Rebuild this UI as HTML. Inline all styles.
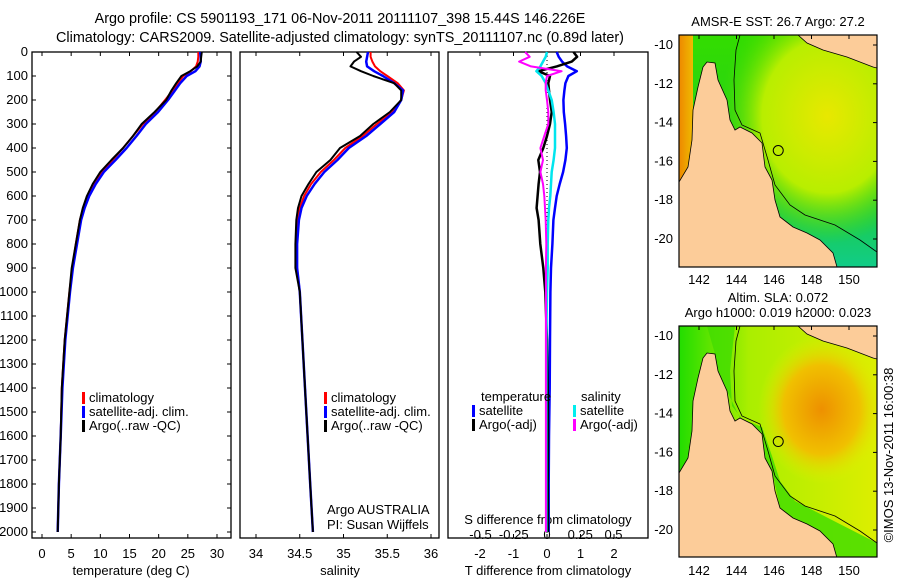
<!DOCTYPE html>
<html><head><meta charset="utf-8"><style>
body{margin:0;background:#fff;}
svg{display:block;font-family:"Liberation Sans",sans-serif;font-size:13px;}
</style></head><body>
<svg id="c" width="900" height="580" viewBox="0 0 900 580">
<defs>
<radialGradient id="sstY" cx="0.75" cy="0.35" r="0.55"><stop offset="0" stop-color="#e8e800"/><stop offset="0.6" stop-color="#b8ee00"/><stop offset="1" stop-color="#44dd00" stop-opacity="0"/></radialGradient>
<linearGradient id="sstB" x1="0" y1="0" x2="0" y2="1"><stop offset="0" stop-color="#33dd00"/><stop offset="0.6" stop-color="#22cc22"/><stop offset="1" stop-color="#11cc88"/></linearGradient>
<linearGradient id="sstL" x1="0" y1="0" x2="1" y2="0"><stop offset="0" stop-color="#ee8800"/><stop offset="1" stop-color="#eebb00"/></linearGradient>
<radialGradient id="slaO" cx="0.72" cy="0.36" r="0.32" gradientTransform="rotate(35 0.72 0.36) scale(1 1)"><stop offset="0" stop-color="#ee9000"/><stop offset="0.6" stop-color="#f0c000"/><stop offset="1" stop-color="#e0ee00" stop-opacity="0"/></radialGradient>
<linearGradient id="slaB" x1="0" y1="0" x2="1" y2="0"><stop offset="0" stop-color="#22dd00"/><stop offset="0.35" stop-color="#aaee00"/><stop offset="1" stop-color="#ddee00"/></linearGradient>
<clipPath id="m1c"><rect x="679" y="35" width="198" height="232"/></clipPath>
<clipPath id="m2c"><rect x="679" y="326" width="198" height="231"/></clipPath>
</defs>
<text x="340" y="23" text-anchor="middle" font-size="14.4">Argo profile: CS 5901193_171 06-Nov-2011 20111107_398 15.44S 146.226E</text>
<text x="340" y="42" text-anchor="middle" font-size="14.4">Climatology: CARS2009. Satellite-adjusted climatology: synTS_20111107.nc (0.89d later)</text>
<g id="plots"></g>
<g id="maps"></g>
<text transform="translate(893,455) rotate(-90)" text-anchor="middle">©IMOS 13-Nov-2011 16:00:38</text>
</svg>
<script>
const NS="http://www.w3.org/2000/svg";
const depths=[0,20,40,60,80,100,130,160,200,250,300,350,400,450,500,550,600,650,700,800,900,1000,1200,1400,1600,1800,2000];
const tempArgo=[27.4,27.3,27.2,26.6,25.4,23.9,23.0,22.2,21.3,19.3,17.1,15.6,13.9,11.9,10.0,8.7,7.7,7.0,6.5,5.8,5.1,4.7,3.9,3.4,3.2,2.9,2.7];
const tempClim=[26.8,26.8,26.7,26.4,25.5,24.2,23.3,22.4,21.1,19.4,17.3,15.6,13.9,12.1,10.3,8.9,7.9,7.1,6.5,5.8,5.2,4.7,3.9,3.4,3.2,2.9,2.7];
const tempSat=[27.1,27.2,27.2,27.0,26.3,24.8,23.7,22.8,21.6,19.9,17.8,16.2,14.5,12.6,10.6,9.2,8.1,7.3,6.7,6.0,5.3,4.8,4.0,3.5,3.2,2.9,2.7];
const salArgo=[35.15,35.2,35.12,35.08,35.2,35.34,35.58,35.66,35.66,35.53,35.34,35.19,34.96,34.85,34.69,34.6,34.52,34.48,34.46,34.45,34.45,34.5,34.53,34.56,34.59,34.62,34.65];
const salClim=[35.31,35.31,35.33,35.36,35.42,35.5,35.62,35.69,35.66,35.56,35.38,35.22,35.02,34.89,34.74,34.63,34.55,34.5,34.47,34.46,34.47,34.5,34.53,34.56,34.59,34.62,34.65];
const salSat=[35.28,35.27,35.26,35.27,35.35,35.45,35.58,35.68,35.66,35.58,35.42,35.26,35.06,34.93,34.78,34.67,34.58,34.52,34.49,34.47,34.47,34.5,34.53,34.56,34.59,34.62,34.65];
const dTsat=[0.29,0.35,0.45,0.6,0.89,0.64,0.55,0.52,0.49,0.5,0.54,0.57,0.59,0.55,0.48,0.38,0.29,0.24,0.19,0.16,0.12,0.1,0.09,0.08,0.06,0.05,0.05];
const dTargo=[0.79,0.9,0.74,0.29,-0.26,0.09,0.04,0.06,0.09,0.14,0.09,0.0,-0.11,-0.26,-0.21,-0.25,-0.28,-0.31,-0.25,-0.2,-0.11,-0.05,0.0,0.02,0.03,0.02,0.03];
const dSsat=[0.0,-0.01,-0.03,-0.05,-0.08,-0.04,-0.01,0.01,0.035,0.05,0.06,0.06,0.06,0.05,0.035,0.03,0.025,0.015,0.01,0.005,0.005,0.0,-0.005,-0.005,-0.005,-0.005,-0.005];
const dSargo=[-0.165,-0.13,-0.21,-0.12,0.11,0.0,-0.01,-0.01,0.0,0.01,0.01,-0.02,-0.05,-0.03,-0.05,-0.03,-0.02,-0.015,-0.01,-0.005,-0.008,-0.008,-0.008,-0.008,-0.008,-0.008,-0.008];
const depthTicks=[0,100,200,300,400,500,600,700,800,900,1000,1100,1200,1300,1400,1500,1600,1700,1800,1900,2000];
const tempTicks=[0,5,10,15,20,25,30];
const salTicks=[34,34.5,35,35.5,36];
const dTTicks=[-2,-1,0,1,2];
const dSTicks=[-0.5,-0.25,0,0.25,0.5];
const lonTicks=[142,144,146,148,150];
const latTicks=[-10,-12,-14,-16,-18,-20];

const yD=d=>52+d*0.24;
const xT=t=>42+t*5.833;
const xS=s=>256+(s-34)*87.5;
const xdT=v=>547+v*33.5;
const xdS=v=>547+v*133;
const xLon=l=>699+(l-142)*18.75;
const yLat1=l=>45+(-10-l)*19.4;
const yLat2=l=>336+(-10-l)*19.4;

function el(tag,attrs,parent,text){const e=document.createElementNS(NS,tag);for(const k in attrs)e.setAttribute(k,attrs[k]);if(text!==undefined)e.textContent=text;parent.appendChild(e);return e;}
const P=document.getElementById('plots');
const panels=[[32,231],[240,439],[448,648]];
panels.forEach((p,i)=>{
  const r=el('rect',{x:p[0],y:52,width:p[1]-p[0],height:486,fill:'none',stroke:'#000','stroke-width':1.3},P);
  
  
});
depthTicks.forEach(d=>{
  const t=el('text',{x:28,y:yD(d)+4,'text-anchor':'end'},P,String(d));
  
  
  el('line',{x1:32,x2:36,y1:yD(d),y2:yD(d),stroke:'#000'},P);
  el('line',{x1:227,x2:231,y1:yD(d),y2:yD(d),stroke:'#000'},P);
});
function xticks(ticks,fx,y){ticks.forEach(v=>{const x=fx(v);
  const t=el('text',{x:x,y:y,'text-anchor':'middle'},P,String(v));
  
  
  el('line',{x1:x,x2:x,y1:534,y2:538,stroke:'#000'},P);el('line',{x1:x,x2:x,y1:52,y2:56,stroke:'#000'},P);});}
xticks(tempTicks,xT,558);
xticks(salTicks,xS,558);
xticks(dTTicks,xdT,558);
dSTicks.forEach(v=>{const t=el('text',{x:xdS(v),y:539,'text-anchor':'middle'},P,String(v));
  
  });
[['temperature (deg C)',131,'temp-axis-title'],['salinity',340,'salinity-axis-title'],['T difference from climatology',548,'t-diff-axis-title']].forEach(a=>{
  const t=el('text',{x:a[1],y:575,'text-anchor':'middle'},P,a[0]);
  
  });
let st=el('text',{x:548,y:524,'text-anchor':'middle'},P,'S difference from climatology');


el('line',{x1:547,x2:547,y1:52,y2:538,stroke:'#000','stroke-dasharray':'1,3'},P);
function series(vals,fx,color,w,name){
  const pts=vals.map((v,i)=>fx(v).toFixed(1)+','+yD(depths[i]).toFixed(1)).join(' ');
  const pl=el('polyline',{points:pts,fill:'none',stroke:color,'stroke-width':w,'stroke-linejoin':'round'},P);
  
  
}
series(tempClim,xT,'#ff0000',2,'temp-climatology-line');
series(tempSat,xT,'#0000ff',2.5,'temp-satellite-line');
series(tempArgo,xT,'#000',2,'temp-argo-line');
series(salClim,xS,'#ff0000',2,'salinity-climatology-line');
series(salSat,xS,'#0000ff',2.5,'salinity-satellite-line');
series(salArgo,xS,'#000',2,'salinity-argo-line');
series(dTsat,xdT,'#0000ff',2.5,'t-diff-satellite-line');
series(dTargo,xdT,'#000',2.5,'t-diff-argo-line');
series(dSsat,xdS,'#00e5ee',2.5,'s-diff-satellite-line');
series(dSargo,xdS,'#ff00ff',2,'s-diff-argo-line');
function legend(x,y,items,name){items.forEach((it,i)=>{
  el('rect',{x:x,y:y+i*14-10,width:3,height:12,fill:it[1]},P);
  const t=el('text',{x:x+7,y:y+i*14},P,it[0]);
  
  });}
[[82,402],[324,402]].forEach((p,k)=>legend(p[0],p[1],[['climatology','#f00'],['satellite-adj. clim.','#00f'],['Argo(..raw -QC)','#000']],'legend-entry-'+(k+1)));
legend(472,415,[['satellite','#00f'],['Argo(-adj)','#000']],'t-legend');
legend(573,415,[['satellite','#0ee'],['Argo(-adj)','#f0f']],'s-legend');
[['temperature',481,401],['salinity',581,401],['Argo AUSTRALIA',327,514],['PI: Susan Wijffels',327,529]].forEach(a=>{
  const t=el('text',{x:a[1],y:a[2]},P,a[0]);
  
  });

const M=document.getElementById('maps');
const landPts=[[679,182],[688,167],[692,140],[693,110],[698,87],[703,67],[707,62],[715,63],[718,80],[727,100],[730,120],[735,130],[740,127],[752,133],[762,143],[765,167],[772,180],[775,200],[780,217],[793,227],[807,233],[820,240],[833,253],[837,267],[679,267]];
const pngPts=[[798,35],[807,43],[823,50],[847,57],[873,67],[877,68],[877,35]];
const contour=[[740,35],[736,50],[734,80],[735,110],[742,125],[760,133],[768,160],[775,185],[790,205],[805,215],[835,225],[860,240],[877,252]];
const greenBand=[[735,35],[730,80],[732,115],[742,128],[762,136],[772,165],[780,190],[795,210],[830,228],[877,252],[877,267],[837,267],[833,253],[820,240],[793,227],[780,217],[772,180],[765,167],[762,143],[740,127],[727,100],[718,80],[715,63],[707,35]];
function drawMap(off,clip,kind,titles,titleY){
  const g=el('g',{'clip-path':'url(#'+clip+')'},M);
  
  
  const sh=p=>p.map(q=>q[0]+','+(q[1]+off)).join(' ');
  if(kind==='sst'){
    el('rect',{x:679,y:35+off,width:198,height:232,fill:'url(#sstB)'},g);
    el('rect',{x:679,y:35+off,width:198,height:232,fill:'url(#sstY)'},g);
    el('rect',{x:679,y:35+off,width:14,height:150,fill:'url(#sstL)'},g);
  }else{
    el('rect',{x:679,y:35+off,width:198,height:232,fill:'url(#slaB)'},g);
    el('rect',{x:679,y:35+off,width:198,height:232,fill:'url(#slaO)'},g);
    el('polygon',{points:sh(greenBand),fill:'#44dd00',opacity:0.85},g);
  }
  el('polyline',{points:sh(contour),fill:'none',stroke:'#000','stroke-width':0.8},g);
  el('polygon',{points:sh(landPts),fill:'#fccc99',stroke:'#000','stroke-width':0.8},g);
  el('polygon',{points:sh(pngPts),fill:'#fccc99',stroke:'#000','stroke-width':0.8},g);
  const c=el('circle',{cx:xLon(146.226),cy:(off?yLat2(-15.44):yLat1(-15.44)),r:5,fill:'none',stroke:'#000'},M);
  
  
  const b=el('rect',{x:679,y:35+off,width:198,height:232-(off?1:0),fill:'none',stroke:'#000','stroke-width':1.2},M);
  
  
  latTicks.forEach(l=>{const y=off?yLat2(l):yLat1(l);
    const t=el('text',{x:673,y:y+4,'text-anchor':'end'},M,String(l));
    
    
    el('line',{x1:873,x2:877,y1:y,y2:y,stroke:'#000'},M);});
  lonTicks.forEach(l=>{const x=xLon(l);
    const t=el('text',{x:x,y:284+off,'text-anchor':'middle'},M,String(l));
    
    
    el('line',{x1:x,x2:x,y1:35+off,y2:39+off,stroke:'#000'},M);});
  titles.forEach((s,i)=>{const t=el('text',{x:778,y:titleY+i*15,'text-anchor':'middle'},M,s);
    
    });
}
drawMap(0,'m1c','sst',['AMSR-E SST: 26.7  Argo: 27.2'],26);
drawMap(291,'m2c','sla',['Altim. SLA: 0.072','Argo h1000: 0.019 h2000: 0.023'],302);
</script>
</body></html>
